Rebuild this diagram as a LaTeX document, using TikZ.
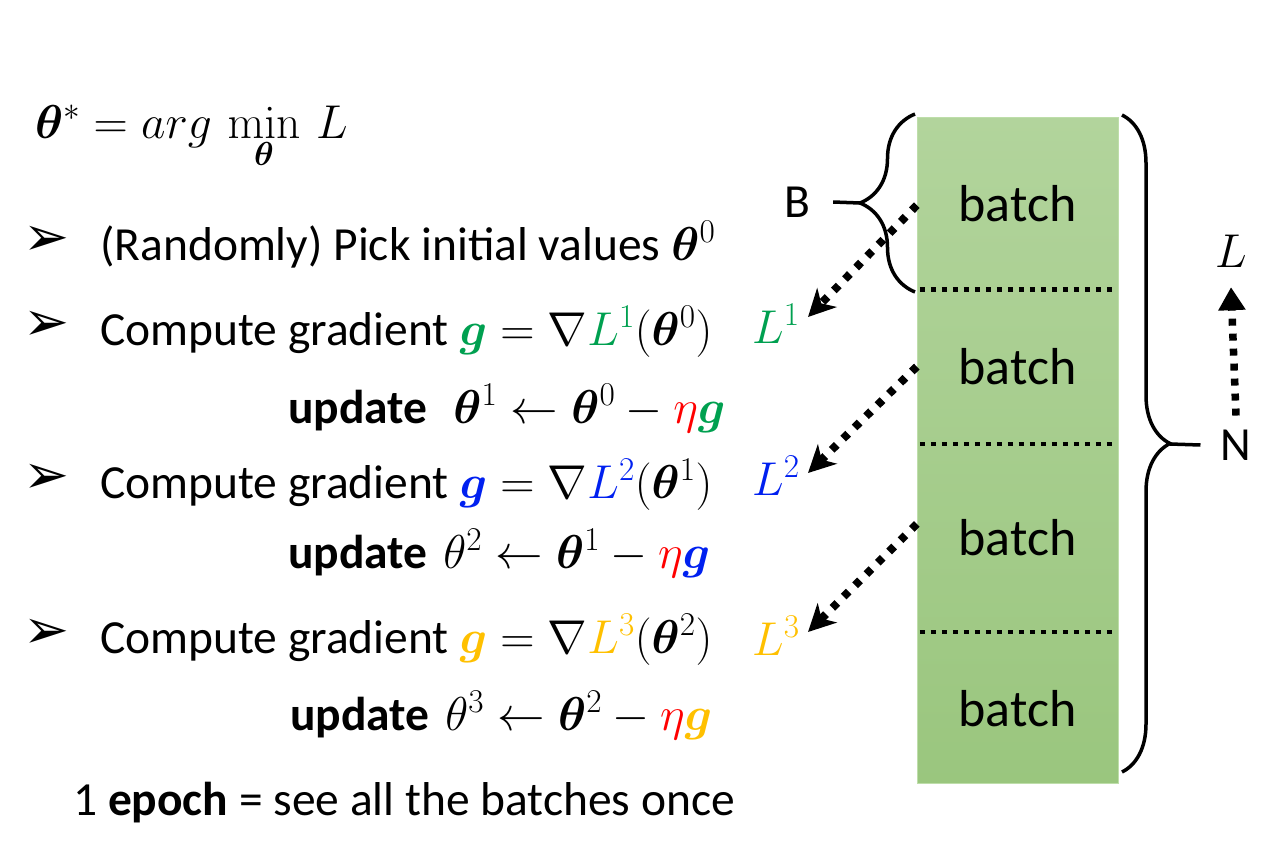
\RequirePackage{fix-cm}
\documentclass[tikz,border=0pt]{standalone}
\usepackage{amsmath,bm}
\usepackage[no-math]{fontspec}
\setmainfont{Carlito}
\newfontfamily\dingfont{DejaVu Sans}
\usetikzlibrary{positioning,calc,arrows.meta,decorations.pathreplacing}

\definecolor{ggreen}{RGB}{0,160,80}
\definecolor{gblue}{RGB}{0,32,240}
\definecolor{gorange}{RGB}{255,192,0}
\definecolor{gred}{RGB}{255,0,0}
\definecolor{batchtop}{RGB}{178,212,156}
\definecolor{batchbot}{RGB}{154,198,126}
\definecolor{batchedge}{RGB}{190,222,170}

\newcommand\bodysize{\fontsize{47.5}{52}\selectfont}
\newcommand\batchsize{\fontsize{52}{58}\selectfont}

\tikzset{txt/.style={font=\bodysize,inner sep=0pt,anchor=base west},
  bul/.style={font=\dingfont\fontsize{55}{58}\selectfont,inner sep=0pt},
  seg/.style={font=\batchsize,inner sep=0pt,minimum width=201pt,anchor=north},
  sepline/.style={line width=4.5pt,dash pattern=on 5pt off 6pt},
  loadarrow/.style={line width=8pt,dash pattern=on 7pt off 9pt,
    -{Stealth[length=27pt,width=27pt,inset=8pt]}},
  uparrow/.style={line width=7.5pt,dash pattern=on 7pt off 8pt,
    -{Triangle[length=23pt,width=26pt]}},
  bracepen/.style={line width=3.5pt}}

\begin{document}
\begin{tikzpicture}[x=1pt,y=-1pt]
  \useasboundingbox (0,0) rectangle (1282,859);

  % objective
  \node[txt] (obj) at (35,138) {$\bm{\theta}^{*} = arg\,\displaystyle\min_{\bm{\theta}}\, L$};

  % steps
  \node[bul] (p0) at (47,241) {➢};
  \node[txt] (s0) at (100,260) {(Randomly) Pick initial values $\bm{\theta}^{0}$};
  \node[bul] (p1) at (47,326) {➢};
  \node[txt] (s1) at (100,345) {Compute gradient $\color{ggreen}\bm{g}\color{black} = \nabla{\color{ggreen}L^{1}}(\bm{\theta}^{0})$};
  \node[txt] (u1) at (288,423) {\textbf{update}\hspace{26pt}$\bm{\theta}^{1} \leftarrow \bm{\theta}^{0} - {\color{gred}\eta}{\color{ggreen}\bm{g}}$};
  \node[bul] (p2) at (47,479) {➢};
  \node[txt] (s2) at (100,498) {Compute gradient $\color{gblue}\bm{g}\color{black} = \nabla{\color{gblue}L^{2}}(\bm{\theta}^{1})$};
  \node[txt] (u2) at (288,568) {\textbf{update}\hspace{16pt}$\theta^{2} \leftarrow \bm{\theta}^{1} - {\color{gred}\eta}{\color{gblue}\bm{g}}$};
  \node[bul] (p3) at (47,634) {➢};
  \node[txt] (s3) at (100,653) {Compute gradient $\color{gorange}\bm{g}\color{black} = \nabla{\color{gorange}L^{3}}(\bm{\theta}^{2})$};
  \node[txt] (u3) at (290,730) {\textbf{update}\hspace{16pt}$\theta^{3} \leftarrow \bm{\theta}^{2} - {\color{gred}\eta}{\color{gorange}\bm{g}}$};
  \node[txt] (ep) at (73,815) {1 \textbf{epoch} = see all the batches once};

  % batch losses
  \node[txt,text=ggreen] (l1) at (752,343) {$L^{1}$};
  \node[txt,text=gblue] (l2) at (752,495) {$L^{2}$};
  \node[txt,text=gorange] (l3) at (752,655) {$L^{3}$};

  % data split into batches
  \shade[top color=batchtop,bottom color=batchbot] (917,117) rectangle (1118,783);
  \draw[batchedge,line width=1pt] (917,117) rectangle (1118,783);
  \node[seg,minimum height=172pt] (b1) at (1017.5,117) {batch};
  \node[seg,minimum height=154pt,below=0pt of b1] (b2) {batch};
  \node[seg,minimum height=188pt,below=0pt of b2] (b3) {batch};
  \node[seg,minimum height=152pt,below=0pt of b3] (b4) {batch};
  \foreach \s in {b1,b2,b3}
    \draw[sepline] ([xshift=3pt]\s.south west) -- ([xshift=-6pt]\s.south east);

  \coordinate (t1) at (808,317);
  \coordinate (t2) at (808,473);
  \coordinate (t3) at (808,632);
  \draw[loadarrow] ([yshift=-2pt]b1.west) -- (t1);
  \draw[loadarrow] (b2.west) -- (t2);
  \draw[loadarrow] ([yshift=14pt]b3.west) -- (t3);

  % B brace
  \node[txt,anchor=center] (B) at (797,202) {B};
  \draw[bracepen,decorate,decoration={brace,amplitude=55pt}] (915,292) -- (915,114);
  \coordinate (btip) at (860,203);
  \draw[bracepen] ([xshift=23pt]B.east) -- (btip);

  % N brace
  \draw[bracepen,decorate,decoration={brace,amplitude=48pt}] (1122,115) -- (1122,772);
  \node[txt,anchor=center] (N) at (1236,445) {N};
  \coordinate (ntip) at (1170,444);
  \draw[bracepen] (ntip) -- ([xshift=-20pt]N.west);

  \node[txt,anchor=base] (Lt) at (1231,267) {$L$};
  \draw[uparrow] ([yshift=14pt]N.north) -- ([yshift=-20pt]Lt.south);
\end{tikzpicture}
\end{document}
